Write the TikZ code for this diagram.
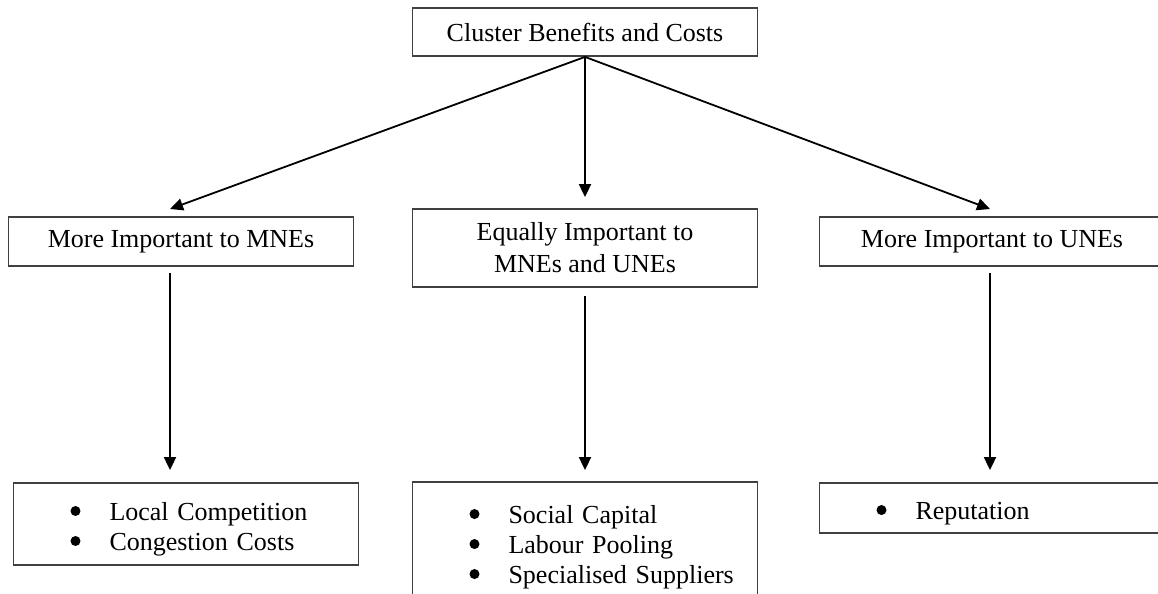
\documentclass[tikz,border=0pt]{standalone}
\usepackage{fontspec}
\setmainfont{Liberation Serif}
\usetikzlibrary{arrows.meta}

% one bulleted line of a list box
\newcommand{\listline}[1]{\hspace*{26.5pt}\makebox[9pt][c]{\raisebox{2.1pt}{\tikz\fill[black] (0pt,0pt) circle (2.5pt);}}\hspace{12.5pt}#1}

\begin{document}
\begin{tikzpicture}[x=0.5pt, y=-0.5pt,
  box/.style={draw=black!75, line width=0.9pt, rectangle, inner sep=0pt,
    minimum width=172.5pt, align=center, font=\fontsize{13}{16}\selectfont},
  listbox/.style={box, align=left, text width=172.5pt, font=\fontsize{13}{15}\selectfont},
  link/.style={-{Triangle[length=6.5pt,width=6pt]}, line width=0.9pt}]
  % page frame, in pixels of the reference
  \clip (0,0) rectangle (1158,594);
  % top level
  \node[box, minimum height=24pt] (top) at (585,32) {Cluster Benefits and Costs};
  % middle level
  \node[box, minimum height=24.5pt] (mne) at (181,241.5) {More Important to MNEs};
  \node[box, minimum height=39pt] (eq) at (585,248) {Equally Important to\\MNEs and UNEs};
  \node[box, minimum height=24.5pt] (une) at (992,241.5) {More Important to UNEs};
  % lists
  \node[listbox, minimum height=41pt] (mneList) at (186,524)
    {\rule{0pt}{14pt}\listline{Local Competition}\\
     \listline{Congestion Costs}};
  \node[listbox, minimum height=59pt] (eqList) at (585,541)
    {\rule{0pt}{15pt}\listline{Social Capital}\\
     \listline{Labour Pooling}\\
     \listline{Specialised Suppliers}};
  \node[listbox, minimum height=25pt] (uneList) at (992,508)
    {\rule{0pt}{14pt}\listline{Reputation}};
  % arrow tips that stop short of the boxes
  \coordinate (mneTip) at (170,209);
  \coordinate (uneTip) at (990,209);
  \draw[link] (top.south) -- (mneTip);
  \draw[link, shorten >=5.5pt] (top.south) -- (eq.north);
  \draw[link] (top.south) -- (uneTip);
  % down to the lists
  \draw[link, shorten <=3pt, shorten >=6pt] (mne.south -| mneTip) -- (mneList.north -| mneTip);
  \draw[link, shorten <=4pt, shorten >=5.5pt] (eq.south) -- (eqList.north);
  \draw[link, shorten <=3pt, shorten >=6pt] (une.south -| uneTip) -- (uneList.north -| uneTip);
\end{tikzpicture}
\end{document}
